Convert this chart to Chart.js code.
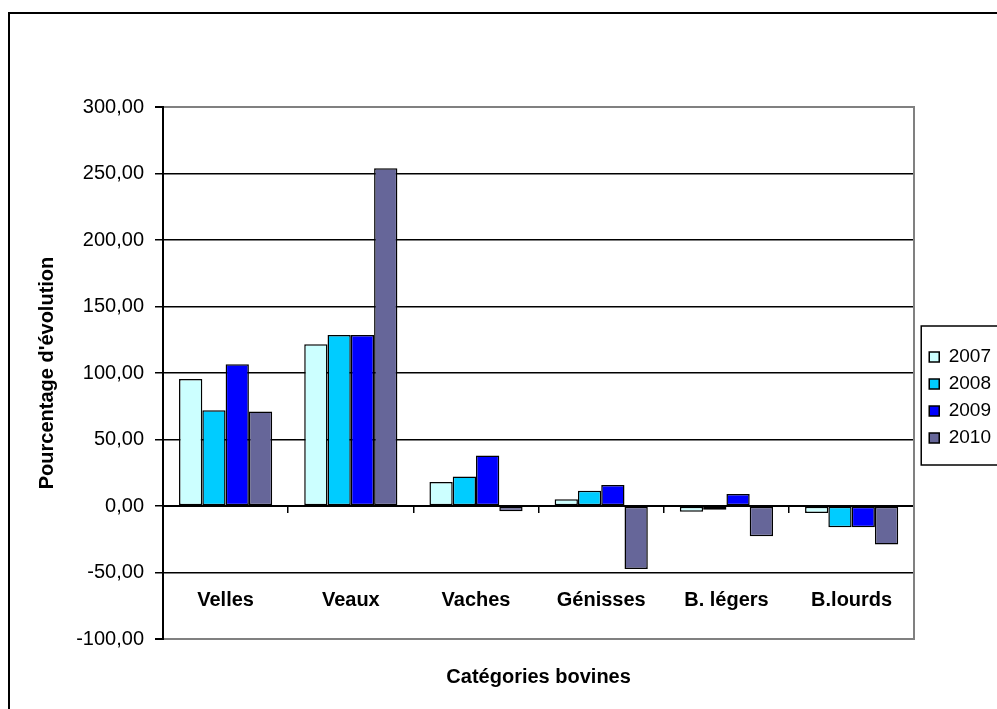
<!DOCTYPE html>
<html lang="fr">
<head>
<meta charset="utf-8">
<title>Evolution des catégories bovines</title>
<script src="https://cdn.jsdelivr.net/npm/chart.js@4/dist/chart.umd.min.js"></script>
<style>
  html, body { margin: 0; padding: 0; background: #fff; overflow: hidden; }
  #cadre {
    position: absolute;
    left: 8px;
    top: 12px;
    width: 1200px;
    height: 800px;
    border-left: 2px solid #000;
    border-top: 2px solid #000;
  }
  #grafico { display: block; }
</style>
</head>
<body>
<div id="cadre">
  <canvas id="grafico" width="991" height="695"></canvas>
</div>
<script>
// ── Données ────────────────────────────────────────────────────────────────

const categories = ['Velles', 'Veaux', 'Vaches', 'Génisses', 'B. légers', 'B.lourds']
const annees = ['2007', '2008', '2009', '2010']

const evol2007 = [95.5, 121.7, 18.0, 5.0, -4.3, -5.3]
const evol2008 = [72.0, 128.5, 22.2, 11.5, -2.8, -16.0]
const evol2009 = [106.5, 128.5, 38.0, 15.7, 9.0, -16.0]
const evol2010 = [71.0, 254.0, -4.0, -47.3, -22.8, -29.0]

const yMin = -100
const yMax = 300
const yPas = 50

const couleurs = ['#CCFFFF', '#00CCFF', '#0000FF', '#666699']

// ── Helpers ─────────────────────────────────────────────────────────────────

const formatNombre = (v) => v.toFixed(2).replace('.', ',')

const serie = (label, data, couleur) => ({
  label,
  data,
  backgroundColor: couleur,
  borderColor: '#000',
  borderWidth: 1.5,
  borderSkipped: false,
  barPercentage: 1,
  categoryPercentage: 0.744,
})

// cadre de la légende (Chart.js n'en dessine pas)
const cadreLegende = {
  id: 'cadreLegende',
  afterDraw(chart) {
    const boxes = chart.legend && chart.legend.legendHitBoxes
    if (!boxes || !boxes.length) return
    const premier = boxes[0]
    const dernier = boxes[boxes.length - 1]
    const ctx = chart.ctx
    const gauche = premier.left - 8
    const haut = premier.top + premier.height / 2 - 31
    const bas = dernier.top + dernier.height / 2 + 27
    ctx.save()
    ctx.strokeStyle = '#000'
    ctx.lineWidth = 1.5
    ctx.strokeRect(gauche, haut, chart.width + 20 - gauche, bas - haut)
    ctx.restore()
  },
}

// ── Graphique ───────────────────────────────────────────────────────────────

Chart.defaults.font.family = "'Liberation Sans', Arial, sans-serif"
Chart.defaults.color = '#000'

const ctx = document.getElementById('grafico')

new Chart(ctx, {
  type: 'bar',
  data: {
    labels: categories,
    datasets: [
      serie(annees[0], evol2007, couleurs[0]),
      serie(annees[1], evol2008, couleurs[1]),
      serie(annees[2], evol2009, couleurs[2]),
      serie(annees[3], evol2010, couleurs[3]),
    ],
  },
  options: {
    responsive: false,
    animation: false,
    layout: { padding: { top: 93, bottom: 21, left: 0, right: 0 } },
    plugins: {
      tooltip: { enabled: false },
      legend: {
        position: 'right',
        labels: {
          boxWidth: 10,
          boxHeight: 10,
          padding: 8,
          font: { size: 19 },
          color: '#000',
        },
      },
      title: {
        display: true,
        position: 'bottom',
        fullSize: false,
        text: 'Catégories bovines',
        font: { size: 20, weight: 'bold', lineHeight: 1 },
        padding: { top: 28, bottom: 1 },
        color: '#000',
      },
    },
    scales: {
      x: {
        type: 'category',
        position: { y: 0 },
        offset: true,
        grid: {
          offset: true,
          drawOnChartArea: false,
          drawTicks: true,
          tickLength: 6,
          color: '#000',
          lineWidth: 1.5,
        },
        border: { display: true, color: '#000', width: 2 },
        ticks: {
          padding: 76,
          font: { size: 20, weight: 'bold' },
          color: '#000',
          maxRotation: 0,
          autoSkip: false,
        },
      },
      y: {
        position: 'left',
        min: yMin,
        max: yMax,
        afterFit: (scale) => {
          scale.width = 153
        },
        ticks: {
          stepSize: yPas,
          padding: 11,
          font: { size: 20 },
          color: '#000',
          callback: (v) => formatNombre(v),
        },
        grid: {
          drawTicks: true,
          tickLength: 8,
          tickColor: '#000',
          color: (c) =>
            c.tick && (c.tick.value === yMax || c.tick.value === yMin)
              ? '#808080'
              : '#000',
          lineWidth: (c) =>
            c.tick && (c.tick.value === yMax || c.tick.value === yMin) ? 2 : 1.5,
        },
        border: { display: true, color: '#000', width: 2 },
        title: {
          display: true,
          text: "Pourcentage d'évolution",
          font: { size: 20, weight: 'bold' },
          padding: { top: 25 },
          color: '#000',
        },
      },
      bordDroit: {
        position: 'right',
        min: yMin,
        max: yMax,
        afterFit: (scale) => {
          scale.width = 7
        },
        ticks: { display: false },
        grid: { drawOnChartArea: false, drawTicks: false },
        border: { display: true, color: '#808080', width: 2 },
      },
    },
  },
  plugins: [cadreLegende],
})
</script>
</body>
</html>
